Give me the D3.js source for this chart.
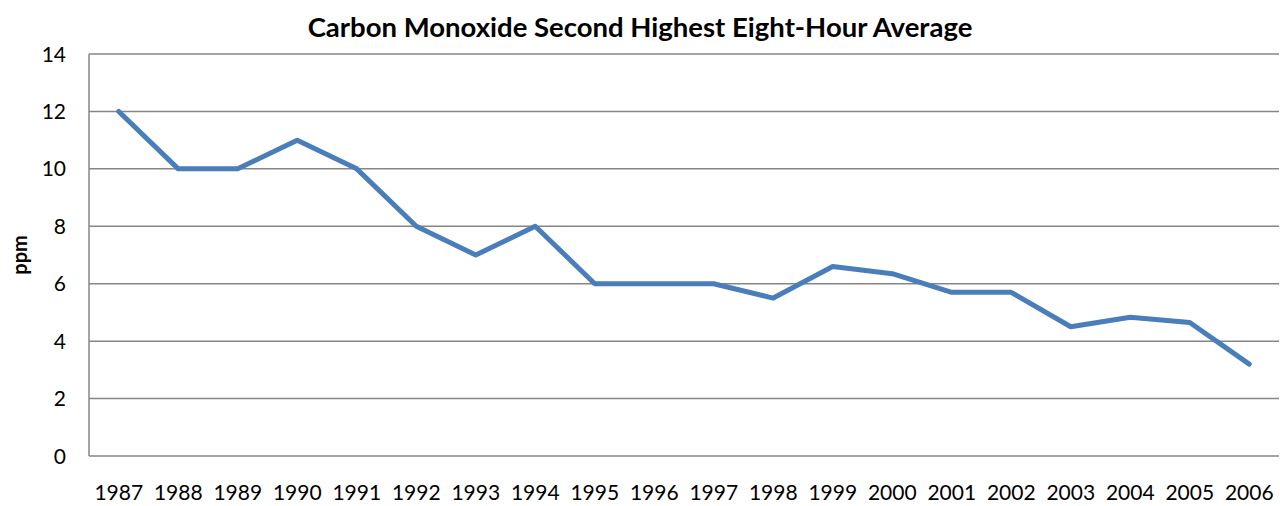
<!DOCTYPE html>
<html><head><meta charset="utf-8">
<script src="https://cdn.jsdelivr.net/npm/d3@7"></script>
<style>body{margin:0;background:#fff}svg{display:block}</style>
</head><body>
<svg id="c" width="1280" height="506"></svg>
<script>
const years = ["1987","1988","1989","1990","1991","1992","1993","1994","1995","1996","1997","1998","1999","2000","2001","2002","2003","2004","2005","2006"];
const ppm = [12,10,10,11,10,8,7,8,6,6,6,5.5,6.6,6.35,5.7,5.7,4.5,4.83,4.65,3.2];
const yTicks = [0,2,4,6,8,10,12,14];
const title = "Carbon Monoxide Second Highest Eight-Hour Average";
const yLabel = "ppm";

const svg = d3.select("#c");
const m = {l:89, r:1279, t:54, b:456};
const x = d3.scaleBand().domain(years).range([m.l, m.r]);
const y = d3.scaleLinear().domain([0,14]).range([m.b, m.t]);
const font = "Lato, 'Open Sans', sans-serif";

svg.append("g").selectAll("line").data(yTicks).join("line")
  .attr("x1", m.l).attr("x2", m.r)
  .attr("y1", d=>y(d)).attr("y2", d=>y(d))
  .attr("stroke", "#868686").attr("stroke-width", 1.5);
svg.append("line").attr("x1", m.l).attr("x2", m.l).attr("y1", m.t).attr("y2", m.b)
  .attr("stroke", "#868686").attr("stroke-width", 1.5);

svg.append("g").selectAll("text").data(yTicks).join("text")
  .attr("x", 66).attr("y", d=>y(d)).attr("dy", "0.36em")
  .attr("text-anchor", "end").attr("font-family", font).attr("font-size", 21)
  .attr("fill", "#000").text(d=>d);

svg.append("g").selectAll("text").data(years).join("text")
  .attr("x", d=>x(d)+x.bandwidth()/2).attr("y", 500)
  .attr("text-anchor", "middle").attr("font-family", font).attr("font-size", 21)
  .attr("fill", "#000").text(d=>d);

const line = d3.line().x((d,i)=>x(years[i])+x.bandwidth()/2).y(d=>y(d));
svg.append("path").datum(ppm).attr("d", line)
  .attr("fill", "none").attr("stroke", "#4a7ebb").attr("stroke-width", 5)
  .attr("stroke-linejoin", "round").attr("stroke-linecap", "round");

svg.append("text").attr("x", 640).attr("y", 37).attr("text-anchor", "middle")
  .attr("font-family", font).attr("font-weight", "bold").attr("font-size", 27.5)
  .text(title);

svg.append("text").attr("transform", "translate(27,255) rotate(-90)")
  .attr("text-anchor", "middle").attr("font-family", font).attr("font-weight", "bold")
  .attr("font-size", 20).text(yLabel);
</script>
</body></html>
